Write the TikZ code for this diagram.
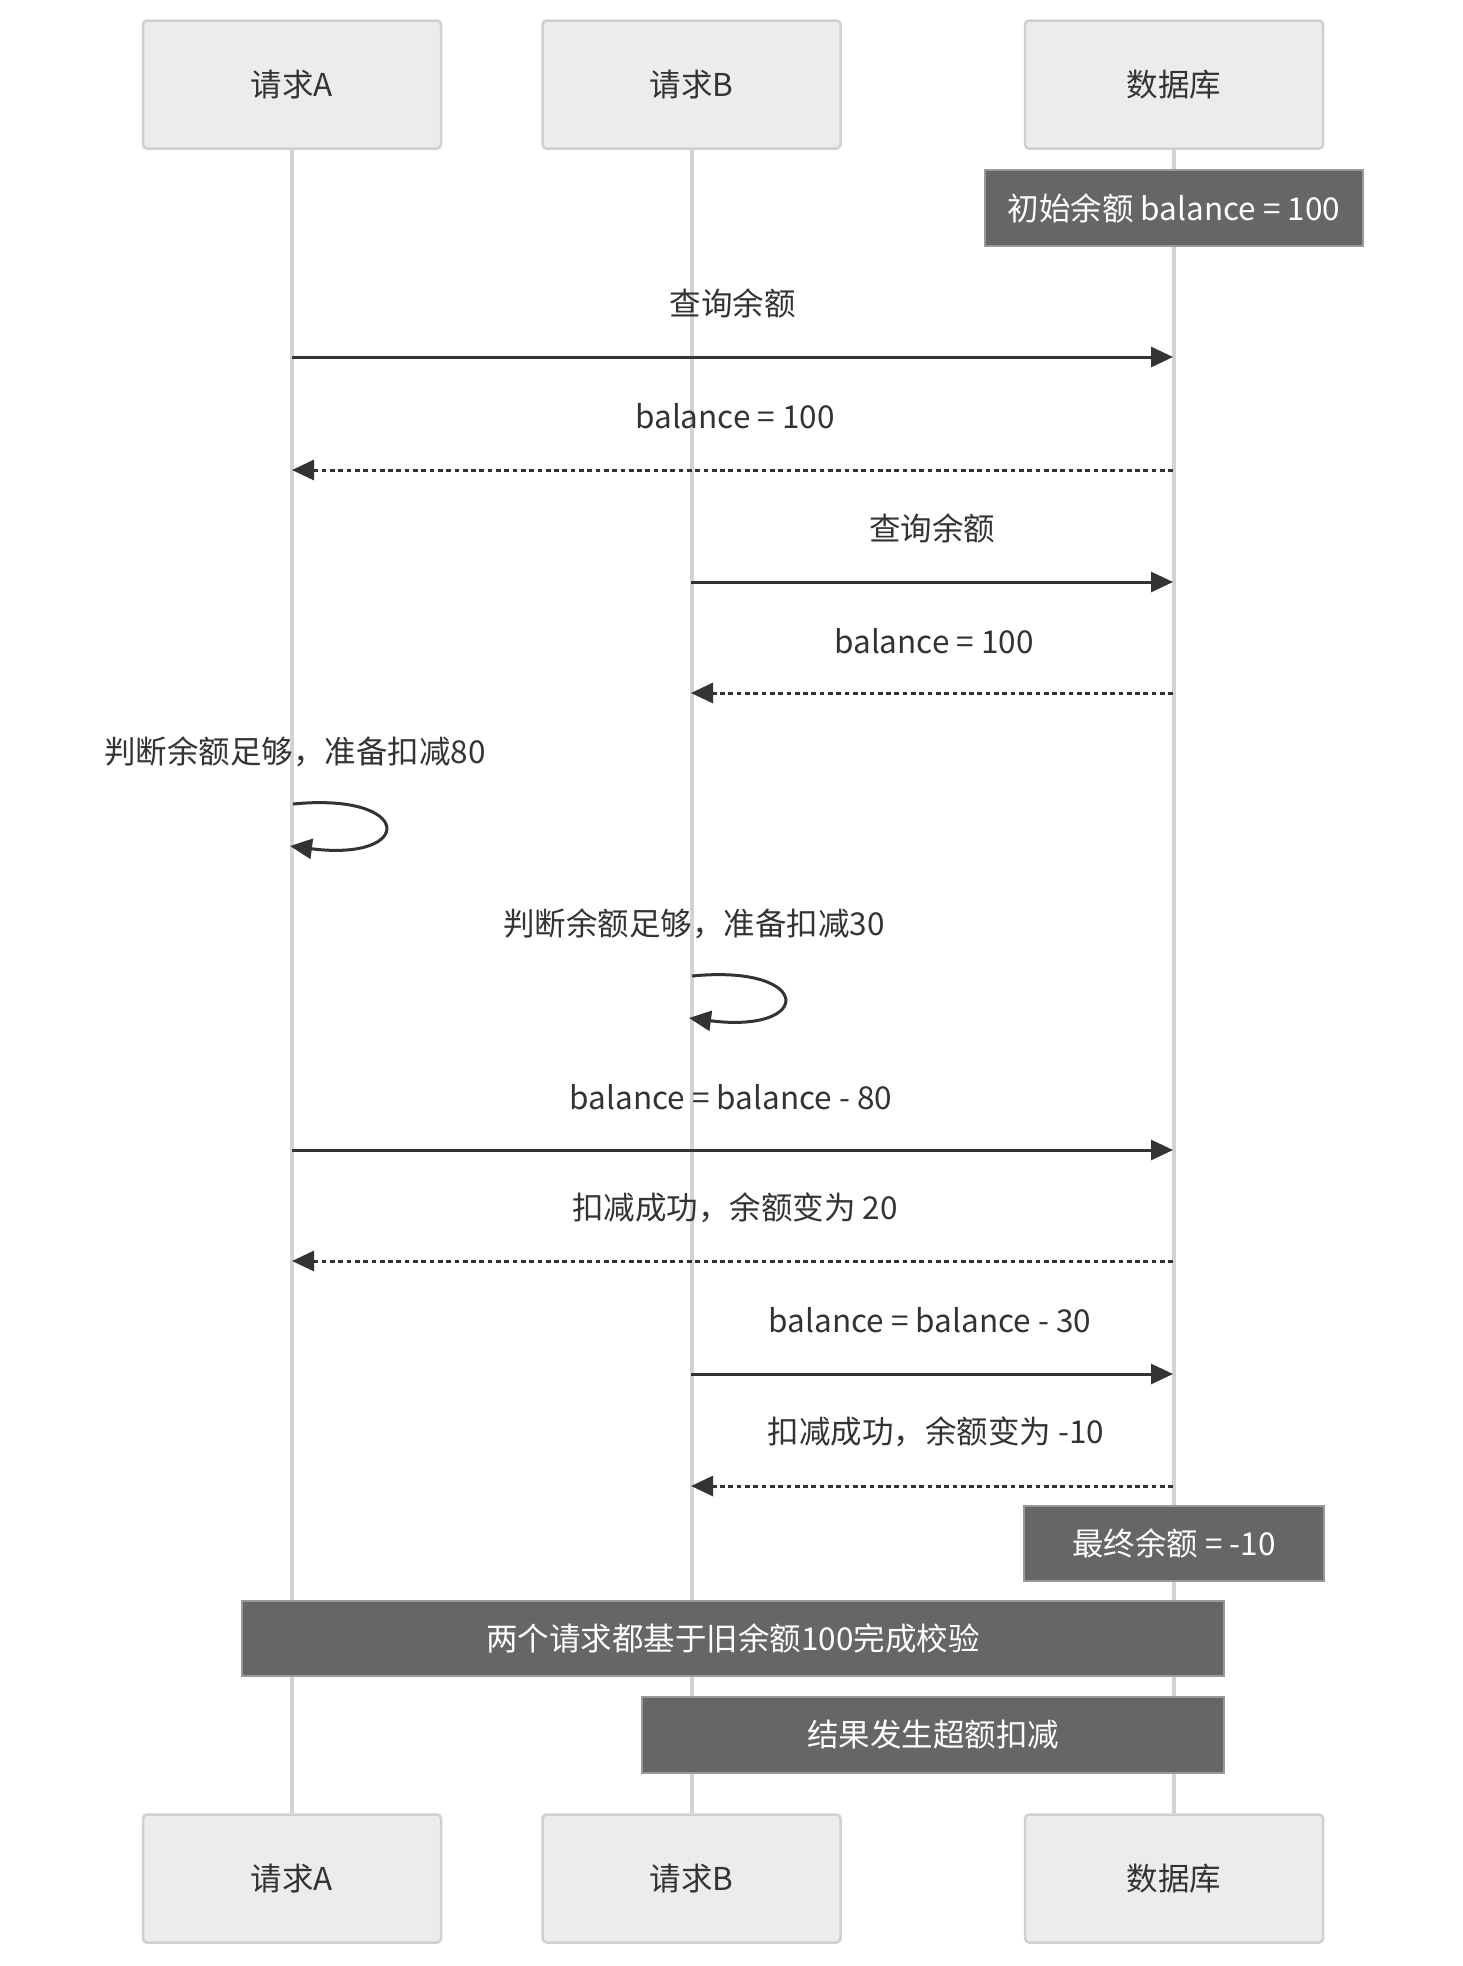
\documentclass[tikz,border=0pt]{standalone}
\usepackage{fontspec}
\setmainfont{Noto Sans CJK SC}
\usetikzlibrary{arrows.meta}
\definecolor{txt}{HTML}{333333}
\definecolor{actorfill}{HTML}{ECECEC}
\definecolor{actorline}{HTML}{D0D0D0}
\definecolor{lifecol}{HTML}{D3D3D3}
\definecolor{notefill}{HTML}{666666}
\definecolor{noteline}{HTML}{999999}
\newcommand\myfs{\fontsize{31.5pt}{38pt}\selectfont}
\tikzset{
  actor/.style={draw=actorline, fill=actorfill, rounded corners=4pt, line width=2.5pt,
    minimum width=298pt, minimum height=128pt, inner sep=0pt, font=\myfs, text=txt},
  lifeline/.style={draw=lifecol, line width=4pt},
  notebox/.style={draw=noteline, fill=notefill, line width=2.5pt, text=white, font=\myfs, inner sep=0pt},
  msg/.style={draw=txt, line width=3pt, -{Triangle[length=22pt,width=20pt]}},
  reply/.style={msg, dash pattern=on 4.7pt off 3.6pt},
  lbl/.style={text=txt, font=\myfs, inner sep=0pt, anchor=center},
}
\begin{document}
\begin{tikzpicture}[x=1pt,y=-1pt]
\useasboundingbox (0,0) rectangle (1463,1966);
% actors
\node[actor] (aTop) at (292,84.5) {请求A};
\node[actor] (bTop) at (691.5,84.5) {请求B};
\node[actor] (dTop) at (1174,84.5) {数据库};
\node[actor] (aBot) at (292,1878.5) {请求A};
\node[actor] (bBot) at (691.5,1878.5) {请求B};
\node[actor] (dBot) at (1174,1878.5) {数据库};
% lifelines
\draw[lifeline] (aTop.south) -- (aBot.north);
\draw[lifeline] (bTop.south) -- (bBot.north);
\draw[lifeline] (dTop.south) -- (dBot.north);
% notes
\node[notebox, minimum width=378pt, minimum height=76pt] (n1) at (1174,208) {初始余额 balance = 100};
\node[notebox, minimum width=300pt, minimum height=75pt] (n2) at (1174,1543.5) {最终余额 = -10};
\node[notebox, minimum width=982pt, minimum height=75pt] (n3) at (733,1638.5) {两个请求都基于旧余额100完成校验};
\node[notebox, minimum width=582pt, minimum height=76pt] (n4) at (933,1735) {结果发生超额扣减};
% message anchor coordinates
\coordinate (a1) at (292,357);  \coordinate (d1) at (1173,357);
\coordinate (a2) at (292,470);  \coordinate (d2) at (1173,470);
\coordinate (b3) at (691,582);  \coordinate (d3) at (1173,582);
\coordinate (b4) at (691,693);  \coordinate (d4) at (1173,693);
\coordinate (a5s) at (293,804); \coordinate (a5e) at (290,846);
\coordinate (b6s) at (692,976); \coordinate (b6e) at (689,1018);
\coordinate (a7) at (292,1150); \coordinate (d7) at (1173,1150);
\coordinate (a8) at (292,1261); \coordinate (d8) at (1173,1261);
\coordinate (b9) at (691,1374); \coordinate (d9) at (1173,1374);
\coordinate (b10) at (691,1486); \coordinate (d10) at (1173,1486);
% messages
\node[lbl] (l1) at (732.5,303) {查询余额};
\draw[msg] (a1) -- (d1);
\node[lbl] (l2) at (735,416) {balance = 100};
\draw[reply] (d2) -- (a2);
\node[lbl] (l3) at (932,528) {查询余额};
\draw[msg] (b3) -- (d3);
\node[lbl] (l4) at (934,641) {balance = 100};
\draw[reply] (d4) -- (b4);
\node[lbl] (l5) at (295,752) {判断余额足够，准备扣减80};
\draw[msg] (a5s) .. controls (415,792) and (415,862) .. (a5e);
\node[lbl] (l6) at (694,924) {判断余额足够，准备扣减30};
\draw[msg] (b6s) .. controls (814,964) and (814,1034) .. (b6e);
\node[lbl] (l7) at (731,1097) {balance = balance - 80};
\draw[msg] (a7) -- (d7);
\node[lbl] (l8) at (735,1208) {扣减成功，余额变为 20};
\draw[reply] (d8) -- (a8);
\node[lbl] (l9) at (930,1320) {balance = balance - 30};
\draw[msg] (b9) -- (d9);
\node[lbl] (l10) at (936,1432) {扣减成功，余额变为 -10};
\draw[reply] (d10) -- (b10);
\end{tikzpicture}
\end{document}
